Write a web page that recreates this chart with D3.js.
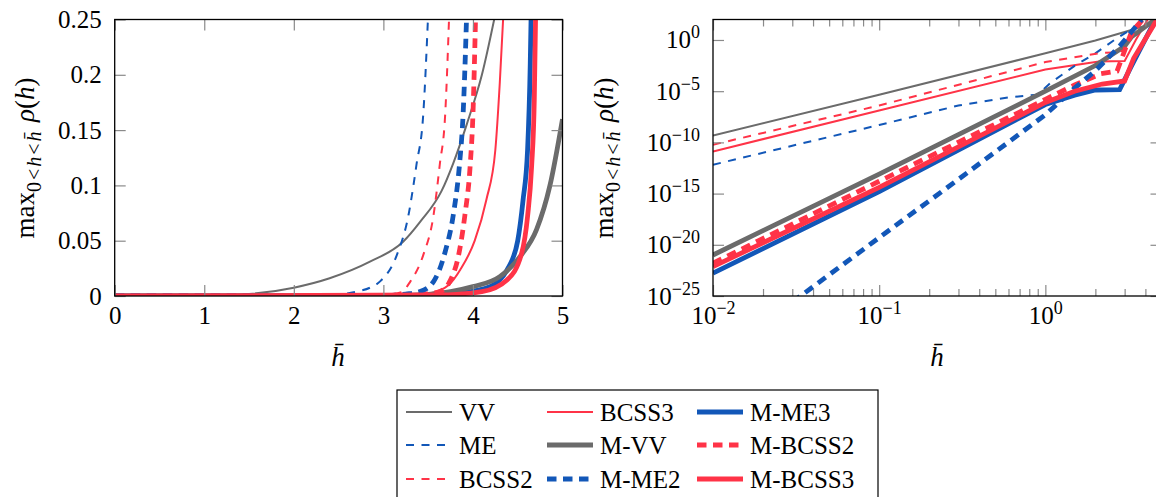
<!DOCTYPE html>
<html><head><meta charset="utf-8">
<script src="https://cdnjs.cloudflare.com/ajax/libs/d3/7.8.5/d3.min.js"></script>
<style>
body{margin:0;background:#fff}
text{font-family:"Liberation Serif","DejaVu Serif",serif;fill:#000}
</style></head><body>
<script>
var width=1156,height=497;
var gray="#6b6b6b",blue="#1257b8",red="#ff3347";
var serif='"Liberation Serif","DejaVu Serif",serif';

// left panel, linear axes: [hbar, rho]
var linVV=[[0,0],[1,0.0003],[1.5,0.0018],[2,0.0075],[2.4,0.016],[2.85,0.031],[3.22,0.049],[3.41,0.067],[3.65,0.095],[3.78,0.12],[3.93,0.155],[4.1,0.2],[4.25,0.255]];
var linME=[[0,0],[2,0.0003],[2.5,0.0015],[2.7,0.004],[2.85,0.0075],[2.96,0.013],[3.15,0.037],[3.28,0.073],[3.37,0.119],[3.445,0.164],[3.5,0.255]];
var linBCSS2=[[0,0],[2.5,0.0003],[3,0.0012],[3.2,0.0035],[3.3,0.013],[3.445,0.037],[3.56,0.073],[3.63,0.119],[3.69,0.164],[3.735,0.255]];
var linBCSS3=[[0,0],[3.3,0.0003],[3.5,0.002],[3.73,0.01],[3.86,0.024],[4.02,0.05],[4.15,0.087],[4.25,0.132],[4.3,0.193],[4.34,0.255]];
var linMVV=[[0,0],[3,0.0003],[3.5,0.0015],[3.75,0.004],[4,0.0085],[4.3,0.0175],[4.53,0.036],[4.71,0.06],[4.86,0.1],[5,0.16]];
var linMME2=[[0,0],[3,0.0003],[3.25,0.0018],[3.41,0.004],[3.56,0.013],[3.69,0.04],[3.78,0.073],[3.85,0.119],[3.89,0.164],[3.93,0.255]];
var linMME3=[[0,0],[3.5,0.0003],[3.82,0.0024],[4.19,0.0085],[4.38,0.0235],[4.5,0.05],[4.56,0.087],[4.61,0.132],[4.64,0.21],[4.65,0.255]];
var linMBCSS2=[[0,0],[3.2,0.0003],[3.45,0.0015],[3.63,0.004],[3.74,0.013],[3.84,0.037],[3.91,0.073],[3.97,0.119],[4.0,0.164],[4.03,0.255]];
var linMBCSS3=[[0,0],[3.6,0.0009],[4.1,0.004],[4.38,0.0145],[4.545,0.039],[4.61,0.072],[4.655,0.117],[4.685,0.178],[4.7,0.255]];

// right panel, log-log axes: [hbar, rho]
var logVV=[[0.01,4.6e-10],[0.1,4.5e-6],[1,0.05],[2,0.9],[3,6],[4,25],[5,200]];
var logME=[[0.01,6.6e-13],[0.1,5e-9],[0.3,4e-7],[0.6,2.5e-6],[0.9,4.5e-6],[1.07,6e-5],[1.5,3e-3],[2,0.05],[2.6,1],[3.4,16],[4,160]];
var logBCSS2=[[0.01,5.9e-11],[0.1,4e-7],[1,7e-3],[2.2,0.056],[2.7,0.063],[3,0.1],[3.4,4],[4,160]];
var logBCSS3=[[0.01,1.3e-11],[0.1,1.3e-7],[1,1.3e-3],[2.1,8e-3],[3,9e-3],[3.5,1],[4.2,160]];
var logMVV=[[0.01,1e-21],[0.1,8e-14],[1,1e-5],[2,3.2e-3],[3,0.25],[3.3,2],[4,20],[5,300]];
var logMME2=[[0.03,2.5e-26],[0.1,5e-20],[0.3,2.5e-14],[1,5e-8],[1.5,2e-5],[2,1e-3],[2.8,0.25],[3.8,100]];
var logMME3=[[0.01,1.7e-23],[0.1,1.6e-15],[1,5e-7],[1.5,4e-6],[2,1.3e-5],[2.8,1.45e-5],[3.3,3e-3],[4.6,100]];
var logMBCSS2=[[0.01,1.6e-22],[0.1,1.6e-14],[1,1.6e-6],[1.5,4e-5],[2.16,5e-4],[2.7,9e-4],[3.3,6],[4,200]];
var logMBCSS3=[[0.01,7.4e-23],[0.1,4e-15],[1,8e-7],[1.5,1e-5],[2.2,5e-5],[3,1e-4],[3.4,0.016],[4.7,100]];

var linYTicks=[0,0.05,0.1,0.15,0.2,0.25];
var linXTicks=[0,1,2,3,4,5];
var logXTicks=[0.01,0.1,1];
var logYTicks=[1e-25,1e-20,1e-15,1e-10,1e-5,1];
var legendCols=[["VV","ME","BCSS2"],["BCSS3","M-VV","M-ME2"],["M-ME3","M-BCSS2","M-BCSS3"]];

var thin=2,thick=4.8;
var series={
  "VV":{color:gray,w:thin,dash:null,lin:linVV,log:logVV},
  "BCSS3":{color:red,w:thin,dash:null,lin:linBCSS3,log:logBCSS3},
  "M-ME3":{color:blue,w:thick,dash:null,lin:linMME3,log:logMME3},
  "ME":{color:blue,w:thin,dash:"8,7.5",lin:linME,log:logME},
  "M-VV":{color:gray,w:thick,dash:null,lin:linMVV,log:logMVV},
  "M-BCSS2":{color:red,w:thick,dash:"9.5,6.5",lin:linMBCSS2,log:logMBCSS2},
  "BCSS2":{color:red,w:thin,dash:"8,7.5",lin:linBCSS2,log:logBCSS2},
  "M-ME2":{color:blue,w:thick,dash:"9.5,6.5",lin:linMME2,log:logMME2},
  "M-BCSS3":{color:red,w:thick,dash:null,lin:linMBCSS3,log:logMBCSS3}
};
var drawOrder=["VV","BCSS3","M-ME3","ME","M-VV","M-BCSS2","BCSS2","M-ME2","M-BCSS3"];

var svg=d3.select("body").append("svg").attr("width",width).attr("height",height)
          .style("font-family",serif);
var yTop=19.5,yBot=296;

function supLabel(sel){
  sel.each(function(d){
    var t=d3.select(this),e=Math.round(Math.log10(d));
    t.text(null);
    t.append("tspan").text("10");
    t.append("tspan").attr("dy",-10).style("font-size","18px").text(e<0?"\u2212"+(-e):e);
  });
}

function ylabel(x,y){
  var t=svg.append("text").attr("transform","translate("+x+","+y+") rotate(-90)")
     .attr("text-anchor","middle").style("font-size","27px");
  var parts=[{s:"max"},{s:"0",sub:1,dy:7},{s:"<",sub:1,dx:2},{s:"h",sub:1,it:1,dx:2},{s:"<",sub:1,dx:2},{s:"h\u0304",sub:1,it:1,dx:2},
             {s:"\u2009",dy:-7},{s:"\u03c1",it:1,dx:4},{s:"("},{s:"h",it:1},{s:")"}];
  parts.forEach(function(p){
    var ts=t.append("tspan").text(p.s);
    if(p.dy)ts.attr("dy",p.dy);
    if(p.dx)ts.attr("dx",p.dx);
    if(p.sub)ts.style("font-size","20px");
    if(p.it)ts.style("font-style","italic");
  });
}

function panel(x0,x1,xScale,yScale,key,log){
  var id="clip"+key;
  svg.append("clipPath").attr("id",id).append("rect")
     .attr("x",x0).attr("y",yTop).attr("width",x1-x0).attr("height",yBot-yTop);
  var line=d3.line().x(function(d){return xScale(d[0]);}).y(function(d){return yScale(d[1]);});
  if(!log)line.curve(d3.curveMonotoneX);
  var g=svg.append("g").attr("clip-path","url(#"+id+")");
  drawOrder.forEach(function(name){
    var s=series[name];
    g.append("path").datum(log?s.log:s.lin)
     .attr("d",line).attr("fill","none")
     .attr("stroke",s.color).attr("stroke-width",s.w)
     .attr("stroke-dasharray",s.dash);
  });
}

function styleAxis(g){
  g.attr("font-family",null);
  g.select(".domain").remove();
  g.selectAll(".tick line").attr("stroke","#8a8a8a").attr("stroke-width",1.2);
  g.selectAll(".tick text").style("font-size","25px").style("font-family",serif).attr("fill","#000");
}

// ---------- left panel ----------
var lx=d3.scaleLinear().domain([0,5]).range([114.7,562.5]);
var ly=d3.scaleLinear().domain([0,0.25]).range([yBot,yTop]);
panel(114.7,562.5,lx,ly,"L",false);

svg.append("g").attr("transform","translate(0,"+yBot+")")
   .call(d3.axisBottom(lx).tickValues(linXTicks).tickSize(-11).tickPadding(10).tickFormat(d3.format("d")))
   .call(styleAxis);
svg.append("g").attr("transform","translate(0,"+yTop+")")
   .call(d3.axisTop(lx).tickValues(linXTicks).tickSize(-11).tickFormat(""))
   .call(styleAxis);
svg.append("g").attr("transform","translate(114.7,0)")
   .call(d3.axisLeft(ly).tickValues(linYTicks).tickSize(-11).tickPadding(13).tickFormat(function(d){return d===0?"0":d3.format("")(d);}))
   .call(styleAxis);
svg.append("g").attr("transform","translate(562.5,0)")
   .call(d3.axisRight(ly).tickValues(linYTicks).tickSize(-11).tickFormat(""))
   .call(styleAxis);
svg.append("rect").attr("x",114.7).attr("y",yTop).attr("width",562.5-114.7).attr("height",yBot-yTop)
   .attr("fill","none").attr("stroke","#000").attr("stroke-width",1.3);
ylabel(34,158);
svg.append("text").attr("x",338).attr("y",366).attr("text-anchor","middle")
   .style("font-size","27px").style("font-style","italic").text("h\u0304");

// ---------- right panel ----------
var rx=d3.scaleLog().domain([0.01,5]).range([713,1161.5]);
var ry=d3.scaleLog().domain([1e-25,1e2]).range([yBot,yTop]);
panel(713,1161.5,rx,ry,"R",true);

var minor=[];
[0.01,0.1,1].forEach(function(dec){for(var k=2;k<=9;k++)if(dec*k<=5)minor.push(dec*k);});
svg.append("g").attr("transform","translate(0,"+yBot+")")
   .call(d3.axisBottom(rx).tickValues(logXTicks).tickSize(-11).tickPadding(10))
   .call(styleAxis).selectAll(".tick text").call(supLabel);
svg.append("g").attr("transform","translate(0,"+yBot+")")
   .call(d3.axisBottom(rx).tickValues(minor).tickSize(-7).tickFormat(""))
   .call(styleAxis);
svg.append("g").attr("transform","translate(0,"+yTop+")")
   .call(d3.axisTop(rx).tickValues(logXTicks).tickSize(-11).tickFormat(""))
   .call(styleAxis);
svg.append("g").attr("transform","translate(0,"+yTop+")")
   .call(d3.axisTop(rx).tickValues(minor).tickSize(-7).tickFormat(""))
   .call(styleAxis);
svg.append("g").attr("transform","translate(713,0)")
   .call(d3.axisLeft(ry).tickValues(logYTicks).tickSize(-11).tickPadding(13))
   .call(styleAxis).selectAll(".tick text").call(supLabel);
svg.append("g").attr("transform","translate(1161.5,0)")
   .call(d3.axisRight(ry).tickValues(logYTicks).tickSize(-11).tickFormat(""))
   .call(styleAxis);
svg.append("rect").attr("x",713).attr("y",yTop).attr("width",1161.5-713).attr("height",yBot-yTop)
   .attr("fill","none").attr("stroke","#000").attr("stroke-width",1.3);
ylabel(613,158);
svg.append("text").attr("x",937).attr("y",366).attr("text-anchor","middle")
   .style("font-size","27px").style("font-style","italic").text("h\u0304");

// ---------- legend ----------
svg.append("rect").attr("x",397).attr("y",390).attr("width",481).attr("height",125)
   .attr("fill","#fff").attr("stroke","#000").attr("stroke-width",1.2);
var colX=[406,547,697],rowY=[412,445,479];
legendCols.forEach(function(col,ci){
  col.forEach(function(name,ri){
    var s=series[name];
    svg.append("line").attr("x1",colX[ci]).attr("x2",colX[ci]+46)
       .attr("y1",rowY[ri]).attr("y2",rowY[ri])
       .attr("stroke",s.color).attr("stroke-width",s.w).attr("stroke-dasharray",s.dash);
    svg.append("text").attr("x",colX[ci]+53).attr("y",rowY[ri]).attr("dy","0.35em")
       .style("font-size","25px").text(name);
  });
});
</script>
</body></html>
